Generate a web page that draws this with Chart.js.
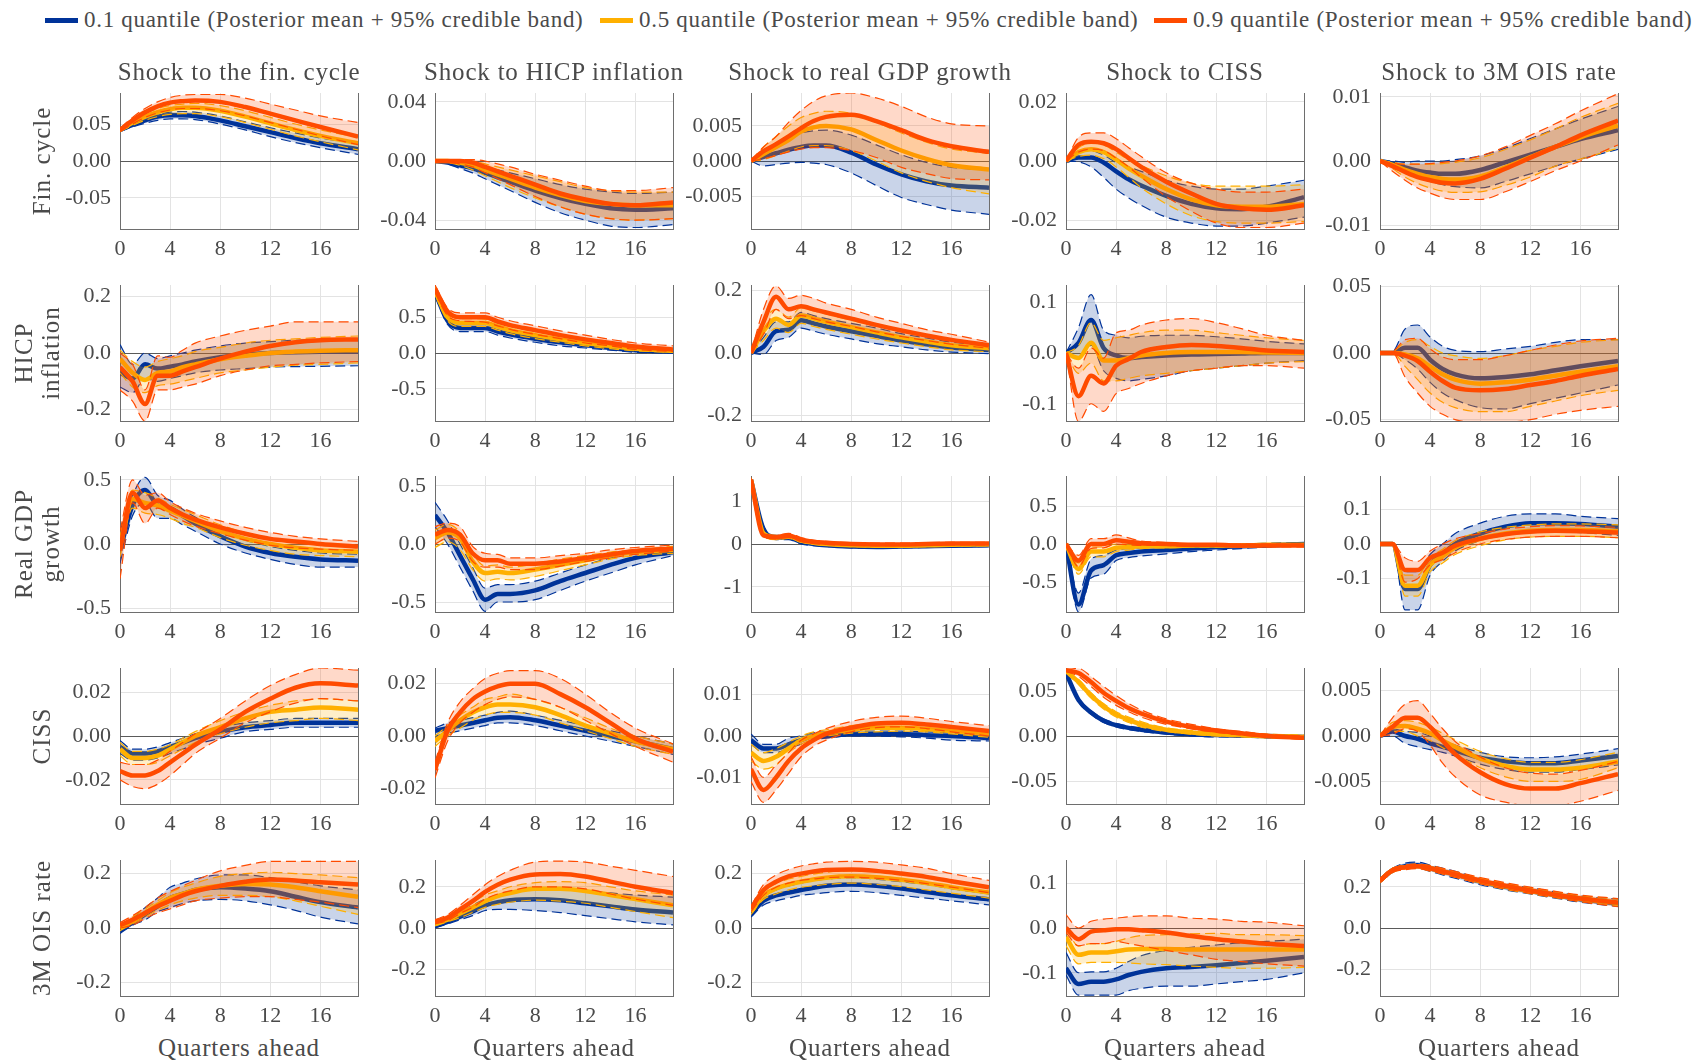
<!DOCTYPE html>
<html>
<head>
<meta charset="utf-8">
<script src="https://cdn.jsdelivr.net/npm/chart.js@4.4.1/dist/chart.umd.min.js"></script>
<style>
  body { margin: 0; background: #fff; }
  #page { position: relative; width: 1695px; height: 1062px; font-family: "Liberation Serif", serif; color: #4a4a4a; }
  #page canvas { position: absolute; }
  .txt { position: absolute; white-space: nowrap; letter-spacing: 0.8px; transform: translate(-50%, -50%); }
  .ylab { position: absolute; white-space: nowrap; text-align: center; line-height: 27px; font-size: 25px; letter-spacing: 1px; transform: translate(-50%, -50%) rotate(-90deg); }
  .leg { position: absolute; top: 7px; display: flex; align-items: center; font-size: 23px; letter-spacing: 0.7px; white-space: nowrap; }
  .leg span.sw { display: inline-block; width: 33px; height: 5px; margin-right: 6px; }
</style>
</head>
<body>
<div id="page"></div>
<script>
// horizon (quarters ahead) at which values are read
const quarters = [0, 1, 2, 3, 4, 5, 6, 8, 10, 12, 14, 16, 19];
const xTickValues = [0, 4, 8, 12, 16];

const shocks = ["Shock to the fin. cycle", "Shock to HICP inflation", "Shock to real GDP growth", "Shock to CISS", "Shock to 3M OIS rate"];
const responses = [["Fin. cycle"], ["HICP", "inflation"], ["Real GDP", "growth"], ["CISS"], ["3M OIS rate"]];
const quantileLabels = ["0.1 quantile (Posterior mean + 95% credible band)", "0.5 quantile (Posterior mean + 95% credible band)", "0.9 quantile (Posterior mean + 95% credible band)"];
const quantileColors = ["#003399", "#ffb000", "#ff4b00"];
const bandColors = ["rgba(0,51,153,0.21)", "rgba(255,176,0,0.21)", "rgba(255,75,0,0.21)"];

// y-axis limits (symmetric) and tick labels, per row
const yLimRow1 = [0.092, 0.046, 0.0097, 0.023, 0.0106];
const yLimRow2 = [0.24, 0.95, 0.218, 0.134, 0.051];
const yLimRow3 = [0.53, 0.586, 1.59, 0.90, 0.196];
const yLimRow4 = [0.031, 0.026, 0.0164, 0.0755, 0.0075];
const yLimRow5 = [0.25, 0.33, 0.25, 0.152, 0.33];

const yTicksRow1 = [["-0.05", "0.00", "0.05"], ["-0.04", "0.00", "0.04"], ["-0.005", "0.000", "0.005"], ["-0.02", "0.00", "0.02"], ["-0.01", "0.00", "0.01"]];
const yTicksRow2 = [["-0.2", "0.0", "0.2"], ["-0.5", "0.0", "0.5"], ["-0.2", "0.0", "0.2"], ["-0.1", "0.0", "0.1"], ["-0.05", "0.00", "0.05"]];
const yTicksRow3 = [["-0.5", "0.0", "0.5"], ["-0.5", "0.0", "0.5"], ["-1", "0", "1"], ["-0.5", "0.0", "0.5"], ["-0.1", "0.0", "0.1"]];
const yTicksRow4 = [["-0.02", "0.00", "0.02"], ["-0.02", "0.00", "0.02"], ["-0.01", "0.00", "0.01"], ["-0.05", "0.00", "0.05"], ["-0.005", "0.000", "0.005"]];
const yTicksRow5 = [["-0.2", "0.0", "0.2"], ["-0.2", "0.0", "0.2"], ["-0.2", "0.0", "0.2"], ["-0.1", "0.0", "0.1"], ["-0.2", "0.0", "0.2"]];

// each panel: [q10 mean, q10 lo, q10 hi, q50 mean, q50 lo, q50 hi, q90 mean, q90 lo, q90 hi]
// row 1: response of fin. cycle
const p11 = [
  [0.042, 0.049, 0.055, 0.060, 0.062, 0.062, 0.061, 0.055, 0.047, 0.039, 0.031, 0.024, 0.016],
  [0.040, 0.046, 0.051, 0.055, 0.057, 0.057, 0.056, 0.050, 0.042, 0.033, 0.025, 0.018, 0.009],
  [0.044, 0.052, 0.058, 0.063, 0.066, 0.067, 0.066, 0.061, 0.053, 0.045, 0.038, 0.031, 0.024],
  [0.042, 0.052, 0.060, 0.066, 0.070, 0.072, 0.072, 0.068, 0.060, 0.051, 0.042, 0.034, 0.024],
  [0.040, 0.048, 0.055, 0.060, 0.063, 0.064, 0.064, 0.060, 0.052, 0.043, 0.034, 0.026, 0.015],
  [0.044, 0.055, 0.064, 0.071, 0.075, 0.077, 0.078, 0.075, 0.068, 0.059, 0.050, 0.042, 0.032],
  [0.042, 0.055, 0.066, 0.074, 0.079, 0.081, 0.082, 0.080, 0.073, 0.064, 0.055, 0.046, 0.033],
  [0.040, 0.050, 0.059, 0.065, 0.069, 0.071, 0.071, 0.068, 0.061, 0.052, 0.043, 0.034, 0.022],
  [0.044, 0.059, 0.071, 0.080, 0.086, 0.089, 0.090, 0.090, 0.085, 0.077, 0.069, 0.061, 0.052]
];
const p12 = [
  [0, -0.001, -0.003, -0.005, -0.008, -0.011, -0.014, -0.020, -0.025, -0.029, -0.032, -0.033, -0.032],
  [0, -0.002, -0.005, -0.008, -0.012, -0.016, -0.020, -0.028, -0.035, -0.040, -0.044, -0.045, -0.043],
  [0, 0.000, -0.001, -0.002, -0.004, -0.006, -0.008, -0.012, -0.016, -0.019, -0.021, -0.022, -0.021],
  [0, 0.000, -0.001, -0.003, -0.006, -0.009, -0.012, -0.018, -0.023, -0.027, -0.029, -0.030, -0.030],
  [0, -0.001, -0.003, -0.006, -0.010, -0.014, -0.018, -0.025, -0.031, -0.036, -0.039, -0.040, -0.039],
  [0, 0.001, 0.001, 0.000, -0.002, -0.004, -0.006, -0.010, -0.014, -0.018, -0.020, -0.021, -0.021],
  [0, 0.000, 0.000, -0.001, -0.004, -0.007, -0.010, -0.016, -0.022, -0.026, -0.029, -0.030, -0.028],
  [0, -0.001, -0.002, -0.004, -0.008, -0.012, -0.016, -0.024, -0.031, -0.036, -0.039, -0.040, -0.039],
  [0, 0.001, 0.001, 0.001, 0.000, -0.002, -0.004, -0.009, -0.013, -0.017, -0.020, -0.020, -0.018]
];
const p13 = [
  [0, 0.0006, 0.0011, 0.0016, 0.0020, 0.0022, 0.0022, 0.0012, -0.0005, -0.0019, -0.0029, -0.0035, -0.0038],
  [0, -0.0007, -0.0005, -0.0003, -0.0002, -0.0003, -0.0005, -0.0017, -0.0035, -0.0052, -0.0062, -0.0070, -0.0076],
  [0, 0.0015, 0.0025, 0.0034, 0.0040, 0.0043, 0.0044, 0.0037, 0.0023, 0.0009, -0.0002, -0.0009, -0.0013],
  [0, 0.0010, 0.0020, 0.0030, 0.0042, 0.0048, 0.0050, 0.0045, 0.0030, 0.0015, 0.0003, -0.0006, -0.0012],
  [0, 0.0002, 0.0008, 0.0014, 0.0020, 0.0022, 0.0022, 0.0015, 0.0000, -0.0017, -0.0029, -0.0038, -0.0047],
  [0, 0.0020, 0.0035, 0.0050, 0.0062, 0.0068, 0.0071, 0.0068, 0.0055, 0.0040, 0.0027, 0.0017, 0.0011],
  [0, 0.0014, 0.0024, 0.0035, 0.0047, 0.0057, 0.0063, 0.0066, 0.0057, 0.0044, 0.0030, 0.0021, 0.0013],
  [0, 0.0003, 0.0008, 0.0013, 0.0017, 0.0019, 0.0019, 0.0015, 0.0005, -0.0009, -0.0018, -0.0025, -0.0027],
  [0, 0.0020, 0.0035, 0.0055, 0.0072, 0.0085, 0.0093, 0.0097, 0.0090, 0.0078, 0.0063, 0.0053, 0.0050]
];
const p14 = [
  [0, 0.0012, 0.0012, -0.0005, -0.0035, -0.0062, -0.0083, -0.0118, -0.0145, -0.0160, -0.0163, -0.0155, -0.0122],
  [0, -0.0003, -0.0020, -0.0055, -0.0095, -0.0125, -0.0150, -0.0190, -0.0210, -0.0220, -0.0220, -0.0210, -0.0190],
  [0, 0.0030, 0.0035, 0.0020, -0.0005, -0.0020, -0.0035, -0.0065, -0.0085, -0.0095, -0.0095, -0.0085, -0.0065],
  [0, 0.0030, 0.0040, 0.0030, 0.0005, -0.0025, -0.0050, -0.0095, -0.0130, -0.0150, -0.0155, -0.0155, -0.0145],
  [0, 0.0015, 0.0020, 0.0008, -0.0020, -0.0055, -0.0090, -0.0145, -0.0185, -0.0205, -0.0210, -0.0210, -0.0205],
  [0, 0.0045, 0.0060, 0.0055, 0.0030, 0.0005, -0.0015, -0.0050, -0.0075, -0.0085, -0.0085, -0.0085, -0.0080],
  [0, 0.0055, 0.0065, 0.0060, 0.0040, 0.0010, -0.0020, -0.0070, -0.0110, -0.0145, -0.0160, -0.0165, -0.0150],
  [0, 0.0030, 0.0040, 0.0035, 0.0010, -0.0020, -0.0055, -0.0120, -0.0170, -0.0210, -0.0225, -0.0225, -0.0210],
  [0, 0.0080, 0.0095, 0.0095, 0.0075, 0.0045, 0.0015, -0.0040, -0.0075, -0.0095, -0.0105, -0.0105, -0.0095]
];
const p15 = [
  [0, -0.0004, -0.0010, -0.0015, -0.0018, -0.0020, -0.0020, -0.0014, -0.0002, 0.0010, 0.0022, 0.0034, 0.0048],
  [0, -0.0008, -0.0016, -0.0025, -0.0032, -0.0037, -0.0040, -0.0042, -0.0032, -0.0020, -0.0008, 0.0003, 0.0018],
  [0, 0.0000, -0.0002, 0.0000, 0.0000, 0.0000, 0.0002, 0.0008, 0.0020, 0.0035, 0.0050, 0.0065, 0.0085],
  [0, -0.0006, -0.0014, -0.0020, -0.0025, -0.0028, -0.0029, -0.0024, -0.0010, 0.0006, 0.0022, 0.0037, 0.0055],
  [0, -0.0012, -0.0025, -0.0035, -0.0042, -0.0047, -0.0049, -0.0048, -0.0038, -0.0025, -0.0008, 0.0003, 0.0020],
  [0, -0.0002, -0.0005, -0.0005, -0.0005, -0.0004, -0.0002, 0.0005, 0.0018, 0.0033, 0.0050, 0.0068, 0.0090],
  [0, -0.0008, -0.0017, -0.0025, -0.0030, -0.0034, -0.0035, -0.0028, -0.0012, 0.0005, 0.0022, 0.0040, 0.0063],
  [0, -0.0016, -0.0030, -0.0042, -0.0050, -0.0057, -0.0060, -0.0060, -0.0048, -0.0032, -0.0015, 0.0000, 0.0025],
  [0, -0.0003, -0.0005, -0.0005, -0.0004, -0.0002, 0.0000, 0.0008, 0.0022, 0.0040, 0.0058, 0.0078, 0.0105]
];
// row 2: response of HICP inflation
const p21 = [
  [-0.07, -0.09, -0.04, -0.055, -0.048, -0.04, -0.03, -0.015, -0.005, 0.0, 0.003, 0.004, 0.004],
  [-0.12, -0.14, -0.09, -0.10, -0.09, -0.08, -0.07, -0.06, -0.055, -0.05, -0.048, -0.047, -0.045],
  [0.03, -0.04, 0.0, -0.02, -0.01, 0.0, 0.01, 0.025, 0.035, 0.04, 0.045, 0.047, 0.048],
  [-0.02, -0.07, -0.095, -0.07, -0.065, -0.05, -0.04, -0.022, -0.01, 0.0, 0.005, 0.008, 0.01],
  [-0.07, -0.12, -0.14, -0.115, -0.11, -0.10, -0.09, -0.07, -0.06, -0.05, -0.043, -0.04, -0.035],
  [0.01, -0.03, -0.05, -0.03, -0.02, -0.01, 0.005, 0.02, 0.035, 0.045, 0.05, 0.055, 0.06],
  [-0.05, -0.10, -0.18, -0.08, -0.08, -0.065, -0.05, -0.02, 0.005, 0.025, 0.038, 0.045, 0.048],
  [-0.13, -0.17, -0.24, -0.13, -0.13, -0.12, -0.11, -0.08, -0.06, -0.045, -0.04, -0.035, -0.03],
  [0.0, -0.04, -0.13, -0.01, -0.015, 0.01, 0.035, 0.06, 0.08, 0.095, 0.11, 0.11, 0.11]
];
const p22 = [
  [0.85, 0.45, 0.35, 0.35, 0.35, 0.30, 0.26, 0.20, 0.15, 0.11, 0.07, 0.04, 0.02],
  [0.80, 0.40, 0.30, 0.30, 0.30, 0.25, 0.21, 0.15, 0.10, 0.07, 0.04, 0.01, 0.00],
  [0.90, 0.52, 0.42, 0.42, 0.42, 0.37, 0.32, 0.26, 0.20, 0.15, 0.11, 0.07, 0.05],
  [0.87, 0.50, 0.42, 0.42, 0.42, 0.37, 0.32, 0.25, 0.19, 0.14, 0.10, 0.06, 0.03],
  [0.82, 0.45, 0.37, 0.37, 0.37, 0.32, 0.27, 0.20, 0.15, 0.10, 0.06, 0.03, 0.01],
  [0.92, 0.56, 0.48, 0.48, 0.47, 0.42, 0.37, 0.30, 0.24, 0.18, 0.13, 0.09, 0.06],
  [0.90, 0.58, 0.50, 0.50, 0.50, 0.44, 0.39, 0.32, 0.25, 0.19, 0.14, 0.09, 0.05],
  [0.85, 0.52, 0.45, 0.44, 0.43, 0.38, 0.33, 0.26, 0.20, 0.14, 0.10, 0.05, 0.02],
  [0.95, 0.63, 0.56, 0.56, 0.56, 0.50, 0.45, 0.38, 0.31, 0.25, 0.19, 0.14, 0.10]
];
const p23 = [
  [0, 0.02, 0.07, 0.075, 0.105, 0.095, 0.085, 0.07, 0.055, 0.04, 0.028, 0.018, 0.01],
  [0, -0.005, 0.04, 0.05, 0.08, 0.07, 0.06, 0.045, 0.03, 0.02, 0.01, 0.003, -0.002],
  [0, 0.05, 0.10, 0.10, 0.13, 0.12, 0.11, 0.095, 0.08, 0.062, 0.048, 0.035, 0.025],
  [0, 0.07, 0.11, 0.09, 0.12, 0.11, 0.10, 0.083, 0.066, 0.05, 0.037, 0.025, 0.015],
  [0, 0.04, 0.08, 0.065, 0.095, 0.085, 0.076, 0.06, 0.045, 0.032, 0.02, 0.01, 0.004],
  [0, 0.10, 0.14, 0.115, 0.145, 0.135, 0.125, 0.105, 0.087, 0.07, 0.054, 0.04, 0.027],
  [0, 0.10, 0.18, 0.14, 0.15, 0.14, 0.13, 0.11, 0.09, 0.072, 0.056, 0.042, 0.025],
  [0, 0.06, 0.14, 0.11, 0.12, 0.11, 0.10, 0.085, 0.068, 0.053, 0.04, 0.028, 0.015],
  [0, 0.14, 0.215, 0.175, 0.185, 0.175, 0.16, 0.14, 0.115, 0.095, 0.075, 0.06, 0.035]
];
const p24 = [
  [0, 0.02, 0.065, 0.01, -0.005, -0.01, -0.008, -0.005, -0.003, -0.002, -0.001, 0.0, 0.0],
  [0, -0.01, 0.015, -0.035, -0.05, -0.055, -0.052, -0.045, -0.035, -0.03, -0.025, -0.02, -0.015],
  [0, 0.05, 0.115, 0.045, 0.035, 0.03, 0.033, 0.035, 0.035, 0.032, 0.028, 0.023, 0.018],
  [0, -0.01, 0.02, -0.015, -0.015, -0.01, -0.005, 0.0, 0.002, 0.002, 0.002, 0.001, 0.0],
  [0, -0.04, -0.02, -0.055, -0.055, -0.05, -0.045, -0.04, -0.035, -0.03, -0.025, -0.02, -0.017],
  [0, 0.015, 0.06, 0.025, 0.03, 0.035, 0.04, 0.045, 0.045, 0.04, 0.035, 0.03, 0.025],
  [0, -0.085, -0.045, -0.06, -0.025, -0.012, 0.002, 0.012, 0.016, 0.014, 0.01, 0.005, 0.002],
  [0, -0.135, -0.10, -0.115, -0.08, -0.07, -0.06, -0.045, -0.035, -0.03, -0.025, -0.025, -0.03],
  [0, -0.03, 0.01, -0.01, 0.04, 0.045, 0.055, 0.065, 0.068, 0.06, 0.048, 0.035, 0.025]
];
const p25 = [
  [0, 0, 0.004, 0.004, -0.005, -0.012, -0.016, -0.019, -0.018, -0.016, -0.013, -0.010, -0.006],
  [0, 0, -0.005, -0.012, -0.022, -0.030, -0.035, -0.041, -0.042, -0.038, -0.034, -0.030, -0.024],
  [0, 0.001, 0.018, 0.021, 0.012, 0.005, 0.002, 0.001, 0.003, 0.005, 0.008, 0.010, 0.010],
  [0, 0, -0.001, -0.004, -0.010, -0.016, -0.020, -0.023, -0.022, -0.020, -0.017, -0.014, -0.010],
  [0, 0, -0.010, -0.020, -0.030, -0.037, -0.041, -0.044, -0.044, -0.040, -0.036, -0.032, -0.028],
  [0, 0.001, 0.008, 0.010, 0.005, 0.000, -0.002, -0.004, -0.002, 0.002, 0.005, 0.008, 0.010],
  [0, 0, -0.002, -0.006, -0.014, -0.021, -0.026, -0.028, -0.027, -0.024, -0.021, -0.017, -0.012],
  [0, 0, -0.018, -0.030, -0.040, -0.046, -0.050, -0.052, -0.052, -0.050, -0.046, -0.043, -0.040],
  [0, 0.001, 0.010, 0.011, 0.003, -0.003, -0.005, -0.005, -0.002, 0.002, 0.006, 0.009, 0.011]
];
// row 3: response of real GDP growth
const p31 = [
  [-0.05, 0.30, 0.42, 0.30, 0.28, 0.22, 0.16, 0.06, -0.02, -0.07, -0.10, -0.12, -0.13],
  [-0.15, 0.22, 0.32, 0.20, 0.20, 0.15, 0.10, 0.00, -0.07, -0.12, -0.16, -0.18, -0.18],
  [0.10, 0.38, 0.52, 0.38, 0.34, 0.27, 0.21, 0.11, 0.03, -0.02, -0.05, -0.07, -0.08],
  [-0.02, 0.35, 0.32, 0.30, 0.26, 0.22, 0.18, 0.10, 0.04, 0.00, -0.03, -0.05, -0.06],
  [-0.10, 0.28, 0.24, 0.23, 0.20, 0.16, 0.13, 0.05, -0.01, -0.05, -0.08, -0.09, -0.10],
  [0.06, 0.42, 0.40, 0.36, 0.31, 0.27, 0.23, 0.15, 0.09, 0.04, 0.02, 0.00, -0.01],
  [-0.05, 0.40, 0.28, 0.34, 0.28, 0.23, 0.19, 0.13, 0.08, 0.04, 0.02, 0.00, -0.02],
  [-0.27, 0.32, 0.16, 0.28, 0.23, 0.18, 0.14, 0.08, 0.03, -0.01, -0.03, -0.04, -0.05],
  [0.10, 0.50, 0.38, 0.40, 0.33, 0.28, 0.24, 0.18, 0.13, 0.09, 0.06, 0.04, 0.02]
];
const p32 = [
  [0.25, 0.10, -0.10, -0.30, -0.48, -0.43, -0.43, -0.40, -0.32, -0.25, -0.18, -0.12, -0.07],
  [0.15, 0.00, -0.20, -0.40, -0.58, -0.50, -0.50, -0.48, -0.40, -0.32, -0.25, -0.18, -0.10],
  [0.36, 0.20, 0.00, -0.20, -0.38, -0.35, -0.35, -0.32, -0.25, -0.18, -0.12, -0.07, -0.03],
  [0.05, 0.10, 0.05, -0.15, -0.25, -0.24, -0.25, -0.22, -0.18, -0.14, -0.10, -0.07, -0.05],
  [-0.03, 0.02, -0.05, -0.22, -0.32, -0.30, -0.31, -0.28, -0.23, -0.18, -0.13, -0.10, -0.08],
  [0.12, 0.17, 0.10, -0.08, -0.19, -0.18, -0.20, -0.17, -0.13, -0.10, -0.07, -0.05, -0.02],
  [0.08, 0.12, 0.08, -0.08, -0.14, -0.14, -0.17, -0.17, -0.15, -0.12, -0.09, -0.06, -0.04],
  [0.00, 0.05, 0.02, -0.15, -0.20, -0.20, -0.22, -0.22, -0.19, -0.15, -0.12, -0.09, -0.06],
  [0.15, 0.18, 0.15, -0.02, -0.08, -0.09, -0.12, -0.12, -0.10, -0.08, -0.05, -0.03, -0.01]
];
const p33 = [
  [1.50, 0.35, 0.15, 0.15, 0.05, 0.00, -0.03, -0.06, -0.07, -0.06, -0.05, -0.04, -0.03],
  [1.45, 0.28, 0.10, 0.10, 0.00, -0.04, -0.06, -0.09, -0.10, -0.09, -0.08, -0.07, -0.06],
  [1.55, 0.42, 0.20, 0.20, 0.10, 0.04, 0.00, -0.03, -0.04, -0.03, -0.02, -0.01, 0.00],
  [1.50, 0.25, 0.15, 0.18, 0.08, 0.03, 0.00, -0.03, -0.04, -0.04, -0.03, -0.02, -0.01],
  [1.45, 0.20, 0.10, 0.13, 0.04, -0.01, -0.03, -0.06, -0.07, -0.07, -0.06, -0.05, -0.04],
  [1.55, 0.30, 0.20, 0.23, 0.12, 0.07, 0.04, 0.00, -0.01, -0.01, 0.00, 0.01, 0.02],
  [1.50, 0.20, 0.16, 0.20, 0.10, 0.05, 0.03, 0.00, -0.01, -0.01, 0.00, 0.01, 0.01],
  [1.45, 0.15, 0.12, 0.15, 0.06, 0.01, -0.01, -0.03, -0.04, -0.04, -0.03, -0.02, -0.02],
  [1.55, 0.26, 0.20, 0.25, 0.15, 0.09, 0.06, 0.03, 0.02, 0.02, 0.03, 0.04, 0.04]
];
const p34 = [
  [0, -0.80, -0.35, -0.28, -0.15, -0.12, -0.10, -0.08, -0.06, -0.04, -0.03, -0.02, 0.00],
  [0, -0.90, -0.45, -0.40, -0.22, -0.18, -0.16, -0.13, -0.10, -0.08, -0.06, -0.04, -0.02],
  [0, -0.65, -0.20, -0.15, -0.08, -0.06, -0.05, -0.04, -0.03, -0.02, 0.00, 0.01, 0.02],
  [0, -0.33, -0.10, -0.10, -0.05, -0.04, -0.03, -0.03, -0.02, -0.02, -0.02, -0.01, -0.01],
  [0, -0.40, -0.17, -0.17, -0.10, -0.08, -0.06, -0.05, -0.04, -0.04, -0.03, -0.03, -0.02],
  [0, -0.25, -0.04, -0.04, 0.00, 0.00, 0.00, -0.01, 0.00, 0.00, 0.00, 0.00, 0.00],
  [0, -0.22, 0.00, 0.00, 0.05, 0.03, 0.01, 0.00, -0.01, -0.01, -0.02, -0.02, -0.02],
  [0, -0.30, -0.06, -0.05, 0.00, -0.01, -0.02, -0.02, -0.03, -0.03, -0.04, -0.04, -0.04],
  [0, -0.15, 0.07, 0.07, 0.12, 0.08, 0.04, 0.02, 0.00, 0.00, 0.00, 0.00, 0.00]
];
const p35 = [
  [0, 0, -0.13, -0.13, -0.06, -0.03, 0.00, 0.03, 0.05, 0.06, 0.06, 0.058, 0.05],
  [0, 0, -0.19, -0.19, -0.09, -0.05, -0.02, 0.01, 0.03, 0.035, 0.035, 0.033, 0.025],
  [0, 0, -0.08, -0.08, -0.03, 0.00, 0.03, 0.06, 0.08, 0.087, 0.087, 0.08, 0.073],
  [0, 0, -0.12, -0.12, -0.06, -0.035, -0.01, 0.015, 0.03, 0.038, 0.04, 0.04, 0.037],
  [0, 0, -0.15, -0.15, -0.08, -0.055, -0.03, -0.005, 0.012, 0.02, 0.022, 0.022, 0.018],
  [0, 0, -0.09, -0.09, -0.04, -0.015, 0.01, 0.035, 0.048, 0.055, 0.058, 0.058, 0.055],
  [0, 0, -0.075, -0.075, -0.04, -0.025, -0.005, 0.015, 0.028, 0.035, 0.038, 0.037, 0.033],
  [0, 0, -0.11, -0.10, -0.06, -0.045, -0.025, 0.00, 0.013, 0.02, 0.022, 0.022, 0.018],
  [0, 0, -0.04, -0.05, -0.02, 0.00, 0.015, 0.03, 0.043, 0.05, 0.053, 0.052, 0.048]
];
// row 4: response of CISS
const p41 = [
  [-0.005, -0.008, -0.008, -0.007, -0.005, -0.003, -0.001, 0.002, 0.004, 0.005, 0.006, 0.006, 0.006],
  [-0.008, -0.011, -0.011, -0.010, -0.008, -0.006, -0.004, -0.001, 0.002, 0.003, 0.004, 0.004, 0.004],
  [-0.002, -0.006, -0.006, -0.005, -0.003, -0.001, 0.001, 0.004, 0.006, 0.007, 0.008, 0.008, 0.008],
  [-0.006, -0.010, -0.010, -0.009, -0.006, -0.003, 0.000, 0.004, 0.008, 0.011, 0.012, 0.013, 0.012],
  [-0.009, -0.013, -0.013, -0.012, -0.009, -0.006, -0.003, 0.001, 0.004, 0.006, 0.007, 0.008, 0.007],
  [-0.003, -0.007, -0.007, -0.006, -0.004, -0.001, 0.002, 0.007, 0.011, 0.014, 0.016, 0.017, 0.016],
  [-0.016, -0.018, -0.018, -0.016, -0.012, -0.008, -0.004, 0.003, 0.011, 0.017, 0.022, 0.024, 0.023],
  [-0.020, -0.023, -0.024, -0.022, -0.018, -0.013, -0.008, -0.001, 0.006, 0.011, 0.015, 0.017, 0.016],
  [-0.012, -0.013, -0.013, -0.011, -0.007, -0.003, 0.001, 0.008, 0.016, 0.023, 0.028, 0.031, 0.030]
];
const p42 = [
  [0.002, 0.003, 0.004, 0.005, 0.006, 0.007, 0.0072, 0.006, 0.004, 0.002, 0.000, -0.002, -0.005],
  [0.000, 0.001, 0.002, 0.003, 0.004, 0.005, 0.005, 0.004, 0.002, 0.000, -0.002, -0.004, -0.007],
  [0.003, 0.005, 0.006, 0.007, 0.008, 0.009, 0.0095, 0.008, 0.006, 0.004, 0.002, 0.000, -0.003],
  [-0.002, 0.002, 0.006, 0.009, 0.011, 0.012, 0.012, 0.011, 0.008, 0.004, 0.001, -0.002, -0.005],
  [-0.004, 0.000, 0.003, 0.006, 0.008, 0.009, 0.009, 0.008, 0.005, 0.002, -0.001, -0.004, -0.007],
  [0.000, 0.004, 0.008, 0.011, 0.014, 0.015, 0.016, 0.014, 0.011, 0.007, 0.003, 0.000, -0.003],
  [-0.013, 0.002, 0.009, 0.014, 0.017, 0.019, 0.020, 0.020, 0.016, 0.011, 0.005, -0.001, -0.006],
  [-0.016, -0.002, 0.005, 0.009, 0.012, 0.014, 0.015, 0.014, 0.011, 0.006, 0.001, -0.004, -0.010],
  [-0.010, 0.005, 0.013, 0.018, 0.022, 0.024, 0.025, 0.025, 0.022, 0.016, 0.009, 0.003, -0.003]
];
const p43 = [
  [-0.001, -0.003, -0.003, -0.002, -0.001, 0.0, 0.0, 0.0005, 0.0005, 0.0005, 0.0002, 0.0, -0.0005],
  [-0.002, -0.004, -0.004, -0.003, -0.002, -0.001, -0.0005, 0.0, 0.0, -0.0002, -0.0005, -0.001, -0.0012],
  [0.0005, -0.002, -0.002, -0.0005, 0.0, 0.0008, 0.001, 0.0012, 0.0012, 0.0012, 0.001, 0.0007, 0.0],
  [-0.004, -0.006, -0.005, -0.003, -0.001, 0.0, 0.0007, 0.0015, 0.002, 0.002, 0.0017, 0.0012, 0.0005],
  [-0.006, -0.008, -0.007, -0.004, -0.002, -0.0007, 0.0, 0.0007, 0.001, 0.0012, 0.001, 0.0005, -0.0003],
  [-0.002, -0.004, -0.003, -0.0015, 0.0, 0.001, 0.0015, 0.0025, 0.003, 0.003, 0.0027, 0.002, 0.0013],
  [-0.008, -0.013, -0.010, -0.006, -0.003, -0.001, 0.0005, 0.002, 0.003, 0.0032, 0.0028, 0.0022, 0.0012],
  [-0.011, -0.016, -0.013, -0.009, -0.005, -0.0025, -0.001, 0.001, 0.002, 0.0022, 0.0018, 0.001, 0.0],
  [-0.005, -0.010, -0.007, -0.004, -0.001, 0.0005, 0.0018, 0.0035, 0.0045, 0.0048, 0.0043, 0.0035, 0.0025]
];
const p44 = [
  [0.070, 0.040, 0.026, 0.017, 0.012, 0.009, 0.007, 0.004, 0.002, 0.001, 0.0005, 0.0, -0.001],
  [0.069, 0.038, 0.024, 0.015, 0.010, 0.007, 0.005, 0.002, 0.000, -0.001, -0.001, -0.002, -0.002],
  [0.071, 0.042, 0.028, 0.019, 0.014, 0.011, 0.009, 0.006, 0.004, 0.003, 0.002, 0.001, 0.000],
  [0.072, 0.060, 0.045, 0.033, 0.024, 0.018, 0.013, 0.007, 0.004, 0.002, 0.001, 0.0, -0.001],
  [0.071, 0.057, 0.042, 0.030, 0.021, 0.015, 0.010, 0.005, 0.002, 0.000, -0.001, -0.002, -0.003],
  [0.073, 0.063, 0.048, 0.036, 0.027, 0.021, 0.016, 0.009, 0.006, 0.004, 0.003, 0.002, 0.001],
  [0.073, 0.070, 0.060, 0.048, 0.039, 0.031, 0.025, 0.016, 0.010, 0.006, 0.003, 0.0, -0.002],
  [0.072, 0.066, 0.055, 0.043, 0.034, 0.027, 0.021, 0.013, 0.008, 0.004, 0.001, -0.001, -0.004],
  [0.074, 0.075, 0.066, 0.055, 0.045, 0.036, 0.029, 0.019, 0.013, 0.008, 0.005, 0.002, 0.000]
];
const p45 = [
  [0, 0.0005, 0.0, -0.0003, -0.0008, -0.0012, -0.0016, -0.0024, -0.0028, -0.003, -0.003, -0.0027, -0.0022],
  [0, 0.0, -0.0008, -0.0012, -0.0015, -0.0018, -0.0022, -0.0031, -0.0037, -0.004, -0.004, -0.0037, -0.0032],
  [0, 0.0008, 0.0005, 0.0004, 0.0, -0.0005, -0.001, -0.0018, -0.0023, -0.0024, -0.0023, -0.002, -0.0014],
  [0, 0.001, 0.0011, 0.0008, 0.0003, -0.0005, -0.0012, -0.0025, -0.0033, -0.0037, -0.0037, -0.0035, -0.0028],
  [0, 0.0005, 0.0005, 0.0, -0.0005, -0.0013, -0.002, -0.0035, -0.0045, -0.005, -0.005, -0.0048, -0.0035],
  [0, 0.0015, 0.0017, 0.0015, 0.001, 0.0003, -0.0004, -0.0017, -0.0025, -0.0029, -0.0029, -0.0026, -0.0018],
  [0, 0.001, 0.002, 0.002, 0.001, -0.0005, -0.002, -0.004, -0.0053, -0.0058, -0.0058, -0.0052, -0.0042],
  [0, 0.0002, 0.0008, 0.0005, -0.001, -0.003, -0.0045, -0.0065, -0.0073, -0.0077, -0.0077, -0.0072, -0.006],
  [0, 0.002, 0.0035, 0.0039, 0.0025, 0.0008, -0.0006, -0.0023, -0.0035, -0.0041, -0.0042, -0.0038, -0.0028]
];
// row 5: response of 3M OIS rate
const p51 = [
  [-0.01, 0.02, 0.05, 0.08, 0.11, 0.125, 0.14, 0.15, 0.145, 0.135, 0.115, 0.095, 0.075],
  [-0.02, 0.01, 0.03, 0.06, 0.075, 0.09, 0.10, 0.105, 0.10, 0.085, 0.065, 0.04, 0.015],
  [0.00, 0.035, 0.075, 0.11, 0.15, 0.165, 0.18, 0.195, 0.195, 0.185, 0.17, 0.155, 0.14],
  [0.00, 0.025, 0.055, 0.085, 0.11, 0.125, 0.14, 0.155, 0.162, 0.16, 0.15, 0.135, 0.115],
  [-0.01, 0.015, 0.04, 0.065, 0.085, 0.10, 0.11, 0.12, 0.12, 0.115, 0.10, 0.08, 0.05],
  [0.01, 0.04, 0.07, 0.10, 0.13, 0.15, 0.165, 0.19, 0.20, 0.205, 0.20, 0.195, 0.185],
  [0.01, 0.03, 0.055, 0.08, 0.10, 0.12, 0.135, 0.155, 0.17, 0.178, 0.175, 0.168, 0.16],
  [0.00, 0.01, 0.035, 0.055, 0.07, 0.085, 0.10, 0.11, 0.115, 0.115, 0.105, 0.095, 0.075],
  [0.02, 0.045, 0.075, 0.11, 0.135, 0.155, 0.175, 0.21, 0.23, 0.245, 0.245, 0.245, 0.245]
];
const p52 = [
  [0.01, 0.03, 0.055, 0.08, 0.11, 0.125, 0.135, 0.14, 0.135, 0.12, 0.105, 0.09, 0.075],
  [0.00, 0.02, 0.04, 0.06, 0.085, 0.09, 0.09, 0.085, 0.075, 0.06, 0.045, 0.03, 0.015],
  [0.02, 0.045, 0.075, 0.11, 0.14, 0.16, 0.175, 0.19, 0.19, 0.18, 0.17, 0.16, 0.15],
  [0.02, 0.04, 0.07, 0.10, 0.13, 0.155, 0.17, 0.19, 0.19, 0.18, 0.16, 0.14, 0.11],
  [0.01, 0.03, 0.05, 0.075, 0.10, 0.115, 0.125, 0.135, 0.13, 0.12, 0.10, 0.08, 0.05],
  [0.03, 0.055, 0.09, 0.125, 0.16, 0.18, 0.20, 0.22, 0.225, 0.22, 0.20, 0.18, 0.16],
  [0.03, 0.05, 0.09, 0.13, 0.175, 0.21, 0.235, 0.26, 0.262, 0.25, 0.225, 0.20, 0.17],
  [0.02, 0.035, 0.07, 0.10, 0.14, 0.165, 0.18, 0.20, 0.20, 0.19, 0.165, 0.14, 0.11],
  [0.04, 0.065, 0.11, 0.16, 0.21, 0.25, 0.28, 0.32, 0.325, 0.32, 0.30, 0.28, 0.25]
];
const p53 = [
  [0.05, 0.10, 0.12, 0.13, 0.14, 0.148, 0.155, 0.16, 0.155, 0.145, 0.132, 0.12, 0.105],
  [0.04, 0.085, 0.10, 0.11, 0.12, 0.125, 0.13, 0.135, 0.13, 0.12, 0.11, 0.10, 0.085],
  [0.06, 0.115, 0.14, 0.155, 0.165, 0.175, 0.18, 0.185, 0.18, 0.17, 0.16, 0.145, 0.125],
  [0.06, 0.12, 0.145, 0.16, 0.17, 0.178, 0.185, 0.19, 0.187, 0.177, 0.165, 0.15, 0.13],
  [0.05, 0.105, 0.125, 0.14, 0.15, 0.155, 0.16, 0.165, 0.16, 0.152, 0.14, 0.128, 0.11],
  [0.07, 0.135, 0.165, 0.18, 0.19, 0.198, 0.205, 0.21, 0.207, 0.20, 0.188, 0.172, 0.15],
  [0.07, 0.14, 0.17, 0.19, 0.20, 0.208, 0.213, 0.215, 0.21, 0.20, 0.188, 0.172, 0.15],
  [0.06, 0.12, 0.15, 0.165, 0.175, 0.18, 0.185, 0.187, 0.183, 0.175, 0.163, 0.15, 0.13],
  [0.08, 0.16, 0.195, 0.215, 0.228, 0.236, 0.242, 0.245, 0.242, 0.232, 0.22, 0.20, 0.175]
];
const p54 = [
  [-0.09, -0.125, -0.12, -0.12, -0.115, -0.105, -0.098, -0.09, -0.087, -0.083, -0.078, -0.073, -0.065],
  [-0.105, -0.15, -0.15, -0.15, -0.15, -0.14, -0.135, -0.13, -0.13, -0.125, -0.12, -0.115, -0.10],
  [-0.055, -0.10, -0.098, -0.098, -0.09, -0.075, -0.062, -0.05, -0.043, -0.038, -0.033, -0.03, -0.025],
  [-0.02, -0.06, -0.055, -0.055, -0.052, -0.048, -0.047, -0.047, -0.048, -0.048, -0.048, -0.048, -0.048],
  [-0.04, -0.08, -0.077, -0.077, -0.077, -0.078, -0.08, -0.082, -0.085, -0.088, -0.09, -0.09, -0.088],
  [0.00, -0.04, -0.035, -0.035, -0.03, -0.022, -0.017, -0.015, -0.013, -0.012, -0.015, -0.015, -0.017],
  [0.00, -0.025, -0.008, -0.005, -0.003, -0.003, -0.005, -0.01, -0.018, -0.025, -0.03, -0.035, -0.04],
  [-0.01, -0.04, -0.035, -0.035, -0.03, -0.035, -0.04, -0.05, -0.06, -0.07, -0.075, -0.08, -0.085],
  [0.03, 0.00, 0.015, 0.02, 0.022, 0.025, 0.027, 0.027, 0.022, 0.02, 0.015, 0.013, 0.005]
];
const p55 = [
  [0.23, 0.28, 0.30, 0.305, 0.29, 0.275, 0.26, 0.225, 0.20, 0.18, 0.16, 0.14, 0.12],
  [0.22, 0.27, 0.29, 0.29, 0.275, 0.258, 0.242, 0.21, 0.185, 0.165, 0.145, 0.125, 0.105],
  [0.24, 0.29, 0.315, 0.32, 0.305, 0.29, 0.275, 0.24, 0.215, 0.195, 0.175, 0.155, 0.14],
  [0.23, 0.28, 0.295, 0.30, 0.29, 0.275, 0.26, 0.228, 0.202, 0.18, 0.16, 0.142, 0.123],
  [0.22, 0.27, 0.285, 0.29, 0.277, 0.262, 0.247, 0.215, 0.188, 0.167, 0.147, 0.128, 0.108],
  [0.24, 0.29, 0.305, 0.31, 0.303, 0.288, 0.273, 0.242, 0.216, 0.195, 0.175, 0.157, 0.14],
  [0.23, 0.28, 0.295, 0.30, 0.29, 0.275, 0.26, 0.23, 0.205, 0.182, 0.162, 0.143, 0.123],
  [0.22, 0.27, 0.283, 0.288, 0.277, 0.262, 0.247, 0.215, 0.19, 0.168, 0.148, 0.128, 0.103],
  [0.24, 0.29, 0.305, 0.31, 0.303, 0.29, 0.275, 0.245, 0.22, 0.198, 0.178, 0.16, 0.143]
];

const panels = [
  [p11, p12, p13, p14, p15],
  [p21, p22, p23, p24, p25],
  [p31, p32, p33, p34, p35],
  [p41, p42, p43, p44, p45],
  [p51, p52, p53, p54, p55]
];
const yLims = [yLimRow1, yLimRow2, yLimRow3, yLimRow4, yLimRow5];
const yTicks = [yTicksRow1, yTicksRow2, yTicksRow3, yTicksRow4, yTicksRow5];

// layout of the plot areas (px)
const plotLefts = [120, 435, 751, 1066, 1380];
const plotTops = [93, 285, 476, 668, 860];
const plotW = 238, plotH = 136;
const axisW = 82, axisH = 34, padTop = 14, padRight = 6;

Chart.defaults.font.family = "'Liberation Serif', serif";
Chart.defaults.font.size = 22;
Chart.defaults.color = "#4a4a4a";

const page = document.getElementById("page");

// zero line under the bands, right frame edge on top
const framePlugin = {
  id: "frame",
  beforeDatasetsDraw(chart) {
    const { ctx, chartArea: a, scales } = chart;
    const y0 = Math.round(scales.y.getPixelForValue(0)) + 0.5;
    ctx.save();
    ctx.strokeStyle = "#5a5a5a";
    ctx.lineWidth = 1.2;
    ctx.beginPath();
    ctx.moveTo(a.left, y0);
    ctx.lineTo(a.right, y0);
    ctx.stroke();
    ctx.restore();
  },
  afterDraw(chart) {
    const { ctx, chartArea: a } = chart;
    ctx.save();
    ctx.strokeStyle = "#6e6e6e";
    ctx.lineWidth = 1;
    ctx.beginPath();
    ctx.moveTo(Math.round(a.right) + 0.5, a.top);
    ctx.lineTo(Math.round(a.right) + 0.5, a.bottom);
    ctx.stroke();
    ctx.restore();
  }
};

function pts(values) {
  return values.map((v, i) => ({ x: quarters[i], y: v }));
}

function makePanel(r, c) {
  const series = panels[r][c];
  const lim = yLims[r][c];
  const labels = yTicks[r][c];
  const canvas = document.createElement("canvas");
  const w = axisW + plotW + padRight, h = padTop + plotH + axisH;
  canvas.width = w; canvas.height = h;
  canvas.style.width = w + "px"; canvas.style.height = h + "px";
  canvas.style.left = (plotLefts[c] - axisW) + "px";
  canvas.style.top = (plotTops[r] - padTop) + "px";
  page.appendChild(canvas);

  const datasets = [];
  for (let q = 0; q < 3; q++) {
    const base = (2 - q) * 3;
    const common = { pointRadius: 0, cubicInterpolationMode: "monotone" };
    datasets.push(Object.assign({
      data: pts(series[q * 3 + 1]), borderColor: quantileColors[q], borderWidth: 1.2, borderDash: [10, 5],
      fill: "+1", backgroundColor: bandColors[q], order: base + 2
    }, common));
    datasets.push(Object.assign({
      data: pts(series[q * 3 + 2]), borderColor: quantileColors[q], borderWidth: 1.2, borderDash: [10, 5],
      fill: false, order: base + 1
    }, common));
    datasets.push(Object.assign({
      data: pts(series[q * 3]), borderColor: quantileColors[q], borderWidth: 4.5,
      fill: false, order: base
    }, common));
  }

  new Chart(canvas, {
    type: "line",
    data: { datasets },
    options: {
      responsive: false,
      animation: false,
      devicePixelRatio: 1,
      layout: { padding: { top: padTop, right: padRight, left: 0, bottom: 0 } },
      plugins: { legend: { display: false }, tooltip: { enabled: false } },
      scales: {
        x: {
          type: "linear", min: 0, max: 19,
          afterBuildTicks: (s) => { s.ticks = xTickValues.map((v) => ({ value: v })); },
          afterFit: (s) => { s.height = axisH; s.paddingLeft = 0; s.paddingRight = 0; },
          ticks: { padding: 7, maxRotation: 0 },
          grid: { color: "#e3e3e3", drawTicks: false },
          border: { display: true, color: "#6e6e6e", width: 1 }
        },
        y: {
          type: "linear", min: -lim, max: lim,
          afterBuildTicks: (s) => { s.ticks = labels.map((t) => ({ value: parseFloat(t) })); },
          afterFit: (s) => { s.width = axisW; s.paddingTop = 0; s.paddingBottom = 0; },
          ticks: { padding: 9, callback: (v, i) => labels[i] },
          grid: { color: "#e3e3e3", drawTicks: false },
          border: { display: true, color: "#6e6e6e", width: 1 }
        }
      }
    },
    plugins: [framePlugin]
  });
}

for (let r = 0; r < 5; r++) for (let c = 0; c < 5; c++) makePanel(r, c);

function addText(cls, html, x, y, size) {
  const d = document.createElement("div");
  d.className = cls;
  d.innerHTML = html;
  d.style.left = x + "px";
  d.style.top = y + "px";
  if (size) d.style.fontSize = size + "px";
  page.appendChild(d);
}

shocks.forEach((s, c) => {
  addText("txt", s, plotLefts[c] + plotW / 2, 72, 25);
  addText("txt", "Quarters ahead", plotLefts[c] + plotW / 2, 1048, 25);
});
responses.forEach((lines, r) => {
  const cx = lines.length > 1 ? 37 : 41;
  addText("ylab", lines.join("<br>"), cx, plotTops[r] + plotH / 2);
});

const legendLefts = [45, 600, 1154];
quantileLabels.forEach((lab, q) => {
  const d = document.createElement("div");
  d.className = "leg";
  d.style.left = legendLefts[q] + "px";
  d.innerHTML = '<span class="sw" style="background:' + quantileColors[q] + '"></span>' + lab;
  page.appendChild(d);
});
</script>
</body>
</html>
